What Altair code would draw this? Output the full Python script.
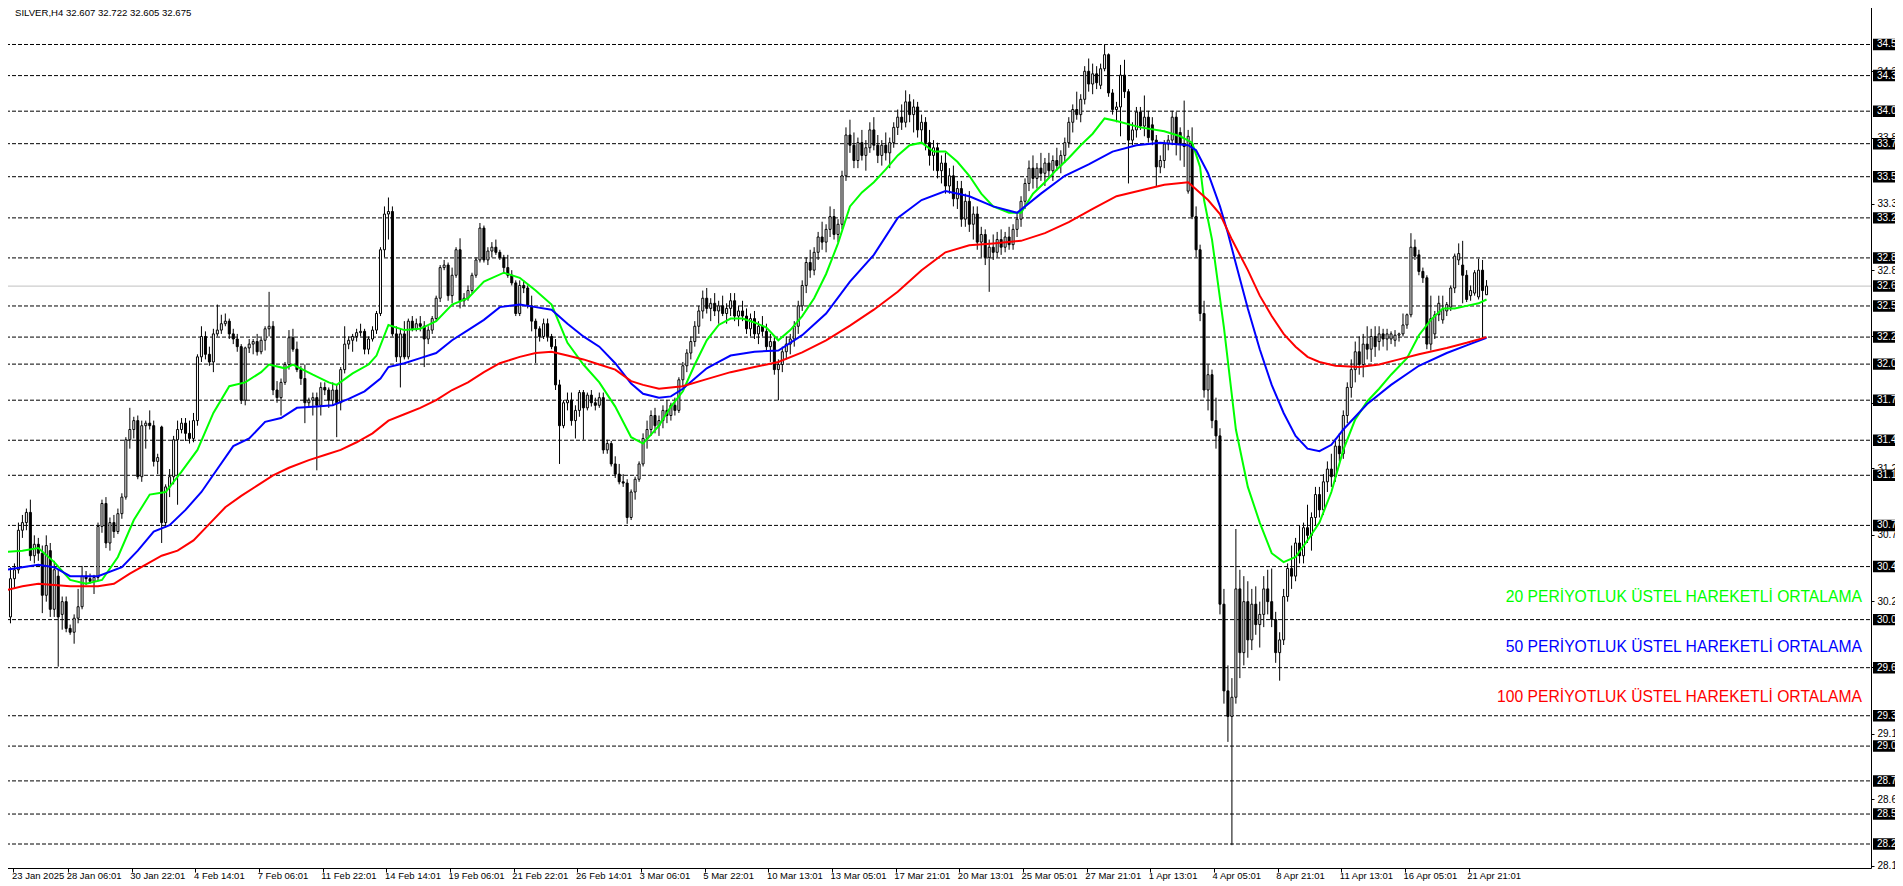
import altair as alt
import pandas as pd

W, H = 1871, 868
P_TOP, P_BOT = 34.919, 28.1108
X0 = -0.375
X1 = X0 + W / 4.0

level_prices = [34.570, 34.326, 34.047, 33.792, 33.533, 33.210, 32.896, 32.519, 32.275,
                32.063, 31.780, 31.466, 31.191, 30.798, 30.475, 30.059, 29.682, 29.305,
                29.067, 28.794, 28.534, 28.299]
current_price = 32.675
tick_prices = [28.130, 28.390, 28.650, 28.905, 29.165, 29.425, 29.685, 29.945, 30.205,
               30.465, 30.725, 30.985, 31.245, 31.505, 31.760, 32.020, 32.280, 32.540,
               32.800, 33.060, 33.320, 33.580, 33.840, 34.100, 34.360, 34.620, 34.880]
date_labels = ["23 Jan 2025", "28 Jan 06:01", "30 Jan 22:01", "4 Feb 14:01", "7 Feb 06:01",
               "11 Feb 22:01", "14 Feb 14:01", "19 Feb 06:01", "21 Feb 22:01", "26 Feb 14:01",
               "3 Mar 06:01", "5 Mar 22:01", "10 Mar 13:01", "13 Mar 05:01", "17 Mar 21:01",
               "20 Mar 13:01", "25 Mar 05:01", "27 Mar 21:01", "1 Apr 13:01", "4 Apr 05:01",
               "8 Apr 21:01", "11 Apr 13:01", "16 Apr 05:01", "21 Apr 21:01"]
date_ticks = [1.75] + [16 * k - 0.5 for k in range(1, len(date_labels))]

opens = [30.58,30.08,30.38,30.45,30.76,30.82,30.90,30.56,30.65,30.58,
 30.25,30.60,30.14,30.40,30.10,30.20,29.99,29.96,30.07,30.16,
 30.40,30.38,30.36,30.39,30.79,30.97,30.66,30.82,30.75,30.89,
 31.02,31.47,31.55,31.62,31.18,31.58,31.60,31.58,31.30,31.57,
 30.82,31.10,31.18,31.47,31.55,31.60,31.52,31.48,31.62,32.12,
 32.28,32.14,32.08,32.30,32.33,32.38,32.40,32.30,32.26,32.20,
 31.78,32.19,32.22,32.24,32.16,32.25,32.34,32.36,31.86,31.80,
 31.92,32.06,32.27,32.18,32.02,31.95,31.76,31.78,31.80,31.74,
 31.88,31.86,31.78,31.86,31.76,32.02,32.22,32.25,32.28,32.31,
 32.32,32.18,32.26,32.33,32.46,32.96,33.24,33.26,32.30,32.12,
 32.30,32.12,32.40,32.34,32.38,32.36,32.26,32.33,32.42,32.58,
 32.82,32.84,32.60,32.76,32.96,32.56,32.58,32.64,32.76,32.88,
 33.13,32.88,32.95,32.98,32.94,32.90,32.82,32.76,32.70,32.46,
 32.68,32.66,32.52,32.40,32.34,32.28,32.38,32.28,32.20,31.90,
 31.58,31.76,31.78,31.62,31.70,31.84,31.72,31.82,31.76,31.74,
 31.80,31.39,31.44,31.28,31.20,31.14,31.13,30.86,31.06,31.16,
 31.28,31.48,31.55,31.66,31.58,31.62,31.70,31.66,31.74,31.70,
 31.94,32.05,32.15,32.24,32.36,32.48,32.58,32.50,32.54,32.48,
 32.52,32.46,32.50,32.56,32.44,32.48,32.44,32.34,32.42,32.30,
 32.36,32.32,32.20,32.24,32.02,32.06,32.16,32.22,32.26,32.36,
 32.52,32.68,32.86,32.80,32.94,33.06,33.02,33.12,33.22,33.08,
 33.16,33.54,33.86,33.78,33.66,33.80,33.70,33.76,33.90,33.78,
 33.70,33.78,33.72,33.80,33.92,34.00,33.96,34.12,34.02,34.08,
 33.90,33.96,33.80,33.70,33.76,33.58,33.64,33.46,33.54,33.36,
 33.44,33.20,33.34,33.16,33.24,33.02,33.08,32.90,32.98,32.94,
 33.04,32.98,33.06,33.00,33.12,33.20,33.34,33.48,33.60,33.52,
 33.60,33.56,33.64,33.58,33.66,33.62,33.70,33.80,33.96,34.06,
 34.02,34.14,34.36,34.26,34.34,34.25,34.38,34.49,34.19,34.06,
 34.08,34.33,34.20,33.82,33.90,34.04,33.93,34.00,33.94,33.82,
 33.61,33.66,33.79,33.82,34.00,33.88,33.79,33.42,33.79,33.22,
 32.96,32.46,31.86,31.98,31.62,31.50,30.18,29.50,29.30,29.45,
 30.30,29.80,30.20,29.90,30.18,30.02,30.10,30.30,30.20,30.06,
 29.80,29.90,30.24,30.46,30.40,30.66,30.56,30.78,30.72,30.86,
 31.04,30.92,31.14,31.24,31.18,31.42,31.36,31.66,31.88,32.02,
 32.16,32.06,32.22,32.18,32.28,32.24,32.30,32.26,32.26,32.25,
 32.29,32.30,32.37,32.45,32.98,32.92,32.79,32.74,32.22,32.30,
 32.45,32.41,32.48,32.51,32.66,32.88,32.84,32.76,32.60,32.62,
 32.59,32.80,32.607]
highs = [30.62,30.47,30.50,30.82,30.88,30.93,31.00,30.72,30.70,30.64,
 30.72,30.66,30.52,30.45,30.24,30.24,30.02,30.10,30.30,30.48,
 30.44,30.42,30.41,30.82,31.00,31.02,30.86,30.88,30.93,31.05,
 31.49,31.72,31.65,31.66,31.62,31.62,31.70,31.62,31.36,31.58,
 31.12,31.24,31.50,31.62,31.64,31.64,31.62,31.68,32.14,32.36,
 32.32,32.20,32.34,32.53,32.45,32.46,32.42,32.34,32.30,32.22,
 32.20,32.26,32.26,32.30,32.27,32.36,32.63,32.40,31.93,31.95,
 32.08,32.33,32.34,32.24,32.05,32.06,31.80,31.84,31.84,31.92,
 31.92,31.88,31.92,31.90,32.04,32.36,32.28,32.30,32.34,32.38,
 32.34,32.28,32.36,32.48,32.98,33.30,33.37,33.30,32.36,32.34,
 32.40,32.42,32.44,32.42,32.44,32.40,32.36,32.44,32.60,32.84,
 32.88,32.86,32.82,32.98,33.05,32.62,32.68,32.78,32.90,33.17,
 33.15,32.98,33.02,33.04,32.96,32.92,32.92,32.80,32.72,32.72,
 32.72,32.68,32.60,32.42,32.36,32.42,32.42,32.30,32.26,31.94,
 31.78,31.84,31.84,31.74,31.86,31.86,31.84,31.86,31.80,31.84,
 31.84,31.47,31.46,31.34,31.28,31.20,31.16,31.08,31.18,31.30,
 31.52,31.62,31.70,31.72,31.66,31.74,31.78,31.76,31.80,31.96,
 32.08,32.18,32.28,32.40,32.52,32.64,32.66,32.58,32.62,32.56,
 32.60,32.54,32.62,32.62,32.52,32.56,32.50,32.46,32.48,32.40,
 32.44,32.38,32.30,32.28,32.10,32.20,32.28,32.30,32.40,32.56,
 32.72,32.90,32.96,32.98,33.10,33.18,33.16,33.30,33.28,33.20,
 33.58,33.92,33.98,33.88,33.84,33.90,33.82,33.96,34.00,33.86,
 33.82,33.88,33.84,33.96,34.06,34.10,34.21,34.18,34.14,34.12,
 34.02,34.00,33.90,33.82,33.80,33.70,33.72,33.60,33.62,33.50,
 33.50,33.40,33.42,33.30,33.30,33.14,33.12,33.04,33.08,33.10,
 33.12,33.10,33.14,33.16,33.24,33.38,33.52,33.66,33.70,33.64,
 33.72,33.68,33.72,33.70,33.76,33.74,33.84,34.00,34.10,34.20,
 34.18,34.40,34.46,34.42,34.40,34.42,34.57,34.50,34.22,34.12,
 34.41,34.45,34.22,33.96,34.08,34.08,34.17,34.05,34.00,33.86,
 33.70,33.82,33.86,34.05,34.04,33.92,34.13,33.90,33.92,33.30,
 33.00,32.56,32.06,32.02,31.80,31.56,30.30,29.70,29.60,30.77,
 30.45,30.40,30.36,30.30,30.32,30.20,30.40,30.45,30.46,30.12,
 29.96,30.30,30.50,30.64,30.70,30.80,30.82,30.96,30.90,31.10,
 31.10,31.20,31.30,31.36,31.48,31.52,31.70,31.92,32.10,32.24,
 32.28,32.30,32.36,32.34,32.36,32.36,32.34,32.34,32.32,32.33,
 32.31,32.46,32.46,33.09,33.04,32.96,32.82,32.76,32.60,32.48,
 32.60,32.60,32.55,32.68,32.93,33.01,33.03,32.80,32.68,32.80,
 32.89,32.88,32.722]
lows = [30.05,30.03,30.30,30.42,30.70,30.76,30.52,30.50,30.52,30.11,
 30.20,30.08,30.08,29.69,29.98,29.96,29.94,29.87,30.03,30.14,
 30.33,30.34,30.26,30.36,30.74,30.62,30.60,30.70,30.73,30.85,
 31.00,31.40,31.48,31.16,31.14,31.40,31.55,31.26,31.20,30.66,
 30.78,31.02,31.12,30.96,31.52,31.46,31.44,31.45,31.58,32.08,
 32.10,32.05,32.00,32.28,32.30,32.36,32.26,32.22,32.16,31.75,
 31.74,32.15,32.14,32.13,32.14,32.17,32.28,31.82,31.76,31.66,
 31.90,32.02,32.16,32.00,31.90,31.60,31.72,31.66,31.23,31.66,
 31.82,31.72,31.74,31.49,31.70,31.99,32.18,32.16,32.24,32.28,
 32.14,32.14,32.24,32.30,32.44,32.90,33.04,32.28,32.08,31.88,
 32.10,32.10,32.32,32.32,32.32,32.04,32.22,32.30,32.40,32.55,
 32.80,32.56,32.54,32.74,32.50,32.52,32.56,32.62,32.74,32.86,
 32.86,32.84,32.90,32.92,32.88,32.78,32.74,32.68,32.44,32.44,
 32.62,32.50,32.32,32.07,32.24,32.26,32.24,32.18,31.86,31.28,
 31.56,31.70,31.58,31.48,31.65,31.47,31.70,31.73,31.70,31.72,
 31.36,31.36,31.26,31.17,31.12,31.10,30.81,30.84,31.00,31.14,
 31.26,31.40,31.50,31.52,31.50,31.56,31.60,31.62,31.66,31.68,
 31.88,32.00,32.10,32.20,32.30,32.42,32.46,32.40,32.44,32.38,
 32.44,32.38,32.44,32.40,32.36,32.40,32.30,32.28,32.26,32.22,
 32.28,32.16,32.08,31.98,31.78,32.00,32.10,32.14,32.20,32.30,
 32.48,32.62,32.74,32.76,32.88,32.96,32.94,33.06,33.04,33.02,
 33.12,33.50,33.72,33.60,33.60,33.66,33.58,33.72,33.74,33.64,
 33.62,33.66,33.60,33.76,33.86,33.90,33.92,33.96,33.88,33.84,
 33.80,33.74,33.62,33.58,33.52,33.48,33.40,33.40,33.30,33.28,
 33.14,33.14,33.10,33.04,32.96,32.90,32.84,32.63,32.88,32.90,
 32.92,32.94,32.96,32.96,33.06,33.14,33.28,33.42,33.44,33.44,
 33.50,33.46,33.52,33.50,33.58,33.56,33.64,33.76,33.88,33.98,
 33.96,34.10,34.20,34.18,34.22,34.22,34.36,34.16,34.02,33.96,
 33.85,34.15,33.48,33.78,33.84,33.90,33.85,33.80,33.78,33.46,
 33.56,33.60,33.74,33.78,33.70,33.66,33.61,33.40,33.20,32.90,
 32.40,31.80,31.70,31.56,31.40,30.10,29.40,29.10,28.29,29.40,
 29.60,29.70,29.76,29.82,29.94,29.84,30.00,30.10,30.00,29.72,
 29.58,29.86,30.20,30.30,30.36,30.50,30.50,30.66,30.60,30.80,
 30.86,30.88,31.06,31.10,31.14,31.30,31.32,31.60,31.80,31.92,
 31.98,31.96,32.10,32.08,32.12,32.17,32.20,32.17,32.22,32.20,
 32.24,32.28,32.34,32.43,32.88,32.76,32.70,32.18,32.17,32.26,
 32.40,32.38,32.44,32.48,32.62,32.84,32.54,32.55,32.56,32.60,
 32.57,32.27,32.605]
closes = [30.08,30.38,30.45,30.76,30.82,30.90,30.56,30.65,30.58,30.25,
 30.64,30.14,30.45,30.08,30.20,29.99,29.96,30.07,30.16,30.40,
 30.38,30.36,30.39,30.79,30.97,30.66,30.82,30.75,30.89,31.02,
 31.47,31.55,31.62,31.18,31.58,31.60,31.58,31.30,31.33,30.82,
 31.10,31.18,31.47,31.55,31.60,31.52,31.48,31.62,32.12,32.28,
 32.14,32.08,32.30,32.33,32.38,32.40,32.30,32.26,32.20,31.78,
 32.19,32.22,32.24,32.16,32.25,32.34,32.36,31.86,31.80,31.92,
 32.06,32.27,32.18,32.02,31.95,31.76,31.78,31.80,31.74,31.88,
 31.86,31.78,31.86,31.76,32.02,32.22,32.25,32.28,32.31,32.32,
 32.18,32.26,32.33,32.46,32.96,33.24,33.26,32.30,32.12,32.30,
 32.12,32.40,32.34,32.38,32.36,32.26,32.33,32.42,32.58,32.82,
 32.84,32.60,32.76,32.96,32.56,32.58,32.64,32.76,32.88,33.13,
 32.88,32.95,32.98,32.94,32.90,32.82,32.76,32.70,32.46,32.68,
 32.66,32.52,32.40,32.34,32.28,32.38,32.28,32.20,31.90,31.58,
 31.76,31.78,31.62,31.70,31.84,31.72,31.82,31.76,31.74,31.80,
 31.39,31.44,31.28,31.20,31.14,31.13,30.86,31.06,31.16,31.28,
 31.48,31.55,31.66,31.58,31.62,31.70,31.66,31.74,31.70,31.94,
 32.05,32.15,32.24,32.36,32.48,32.58,32.50,32.54,32.48,32.52,
 32.46,32.50,32.56,32.44,32.48,32.44,32.34,32.42,32.30,32.36,
 32.32,32.20,32.24,32.02,32.06,32.16,32.22,32.26,32.36,32.52,
 32.68,32.86,32.80,32.94,33.06,33.02,33.12,33.22,33.08,33.16,
 33.54,33.86,33.78,33.66,33.80,33.70,33.76,33.90,33.78,33.70,
 33.78,33.72,33.80,33.92,34.00,33.96,34.12,34.02,34.08,33.90,
 33.96,33.80,33.70,33.76,33.58,33.64,33.46,33.54,33.36,33.44,
 33.20,33.34,33.16,33.24,33.02,33.08,32.90,32.98,32.94,33.04,
 32.98,33.06,33.00,33.12,33.20,33.34,33.48,33.60,33.52,33.60,
 33.56,33.64,33.58,33.66,33.62,33.70,33.80,33.96,34.06,34.02,
 34.14,34.36,34.26,34.34,34.27,34.38,34.49,34.19,34.06,34.08,
 34.33,34.20,33.82,33.90,34.04,33.93,34.00,33.84,33.82,33.61,
 33.66,33.79,33.82,34.00,33.79,33.79,33.77,33.85,33.22,32.96,
 32.46,31.86,31.98,31.62,31.50,30.18,29.50,29.30,29.45,30.30,
 29.80,30.20,29.90,30.18,30.02,30.10,30.30,30.20,30.06,29.80,
 29.90,30.24,30.46,30.40,30.66,30.56,30.78,30.72,30.86,31.04,
 30.92,31.14,31.24,31.18,31.42,31.36,31.66,31.88,32.02,32.16,
 32.06,32.22,32.18,32.28,32.20,32.30,32.26,32.30,32.30,32.29,
 32.30,32.37,32.45,32.98,32.91,32.79,32.74,32.22,32.42,32.45,
 32.54,32.49,32.53,32.66,32.91,32.93,32.76,32.57,32.64,32.78,
 32.80,32.64,32.675]

ema20_bars = [0,4,8,12,16,20,24,28,32,36,40,44,48,52,56,60,64,66,70,72,77,81,83,87,91,93,96,100,104,108,
 112,116,120,125,129,133,137,141,145,149,153,157,160,164,167,170,173,176,179,182,185,188,191,194,197,200,
 203,206,209,212,215,218,221,224,227,230,233,236,239,242,245,248,252,255,258,261,264,267,270,273,276,279,
 285,291,295,298,300,301,303,306,309,312,315,318,321,324,327,330,333,336,339,342,345,348,352,355,358,361,
 364,367,370,372]
ema20 = [30.59,30.60,30.62,30.51,30.37,30.34,30.37,30.55,30.84,31.04,31.06,31.22,31.39,31.68,31.89,31.92,
 32.00,32.06,32.03,32.06,31.98,31.92,31.90,31.99,32.06,32.13,32.37,32.33,32.34,32.40,32.53,32.58,32.71,
 32.78,32.74,32.64,32.53,32.23,32.06,31.92,31.73,31.49,31.44,31.58,31.73,31.85,32.06,32.25,32.37,32.42,
 32.42,32.39,32.35,32.25,32.33,32.44,32.58,32.77,33.01,33.30,33.41,33.49,33.59,33.70,33.78,33.80,33.73,
 33.73,33.65,33.54,33.40,33.30,33.25,33.25,33.40,33.49,33.59,33.68,33.78,33.87,33.99,33.97,33.92,33.89,
 33.85,33.80,33.61,33.35,33.04,32.35,31.55,31.10,30.82,30.58,30.51,30.55,30.68,30.82,31.06,31.39,31.63,
 31.77,31.87,31.98,32.11,32.29,32.41,32.50,32.50,32.52,32.54,32.57]
ema50_bars = [0,4,8,12,16,20,23,29,33,37,41,45,49,53,57,61,65,69,73,78,82,86,90,94,96,100,104,108,112,116,
 120,124,129,133,137,141,145,149,153,157,160,164,167,170,173,176,179,182,188,194,200,206,212,218,224,230,
 236,242,248,254,260,266,272,278,284,290,297,299,302,305,307,309,312,315,318,321,324,327,330,333,336,342,
 348,355,362,367,372]
ema50 = [30.45,30.47,30.49,30.47,30.40,30.40,30.40,30.47,30.60,30.75,30.80,30.92,31.06,31.24,31.42,31.48,
 31.61,31.64,31.72,31.73,31.74,31.79,31.85,31.95,32.04,32.07,32.11,32.15,32.25,32.33,32.41,32.51,32.53,
 32.51,32.49,32.38,32.28,32.20,32.07,31.91,31.83,31.80,31.81,31.87,31.95,32.03,32.08,32.13,32.16,32.17,
 32.29,32.46,32.71,32.92,33.21,33.35,33.42,33.38,33.30,33.25,33.40,33.54,33.63,33.73,33.78,33.80,33.78,
 33.74,33.56,33.30,33.09,32.85,32.50,32.18,31.90,31.68,31.50,31.40,31.38,31.43,31.55,31.75,31.90,32.05,
 32.15,32.21,32.27]
ema100_bars = [0,4,8,12,16,20,23,27,31,35,39,43,47,51,55,59,63,67,71,76,80,84,88,92,96,100,104,108,112,116,
 120,124,129,133,137,141,145,149,153,157,160,164,170,176,182,188,194,200,206,212,218,224,230,236,242,248,
 255,261,267,273,279,285,291,297,302,305,308,312,315,318,321,324,327,330,334,340,345,350,355,362,367,372]
ema100 = [30.29,30.32,30.34,30.33,30.32,30.32,30.32,30.34,30.42,30.49,30.56,30.60,30.68,30.81,30.94,31.03,
 31.11,31.19,31.25,31.31,31.35,31.39,31.45,31.52,31.62,31.67,31.72,31.78,31.86,31.92,32.00,32.07,32.12,
 32.15,32.16,32.13,32.10,32.06,32.02,31.93,31.90,31.87,31.89,31.945,32.00,32.04,32.08,32.155,32.25,32.365,
 32.49,32.63,32.80,32.94,32.995,33.01,33.03,33.09,33.176,33.28,33.38,33.425,33.47,33.49,33.35,33.24,33.04,
 32.80,32.60,32.44,32.30,32.20,32.12,32.08,32.05,32.04,32.06,32.10,32.14,32.19,32.23,32.275]

legend_texts = ["20 PERİYOTLUK ÜSTEL HAREKETLİ ORTALAMA",
                "50 PERİYOTLUK ÜSTEL HAREKETLİ ORTALAMA",
                "100 PERİYOTLUK ÜSTEL HAREKETLİ ORTALAMA"]
legend_colors = ["#00ff00", "#0000ff", "#ff0000"]
title_text = "SILVER,H4  32.607 32.722 32.605 32.675"

FONT = "Liberation Sans"
xs = alt.Scale(domain=[X0, X1], range=[0, W], nice=False, zero=False)
ys = alt.Scale(domain=[P_BOT, P_TOP], range=[H, 0], nice=False, zero=False)

x_axis = alt.Axis(orient="bottom", values=date_ticks,
                  labelExpr="[" + ",".join("'%s'" % s for s in date_labels) + "][round((datum.value+0.5)/16)]",
                  tickSize=4, tickColor="black", domainColor="black", labelColor="black",
                  labelFont=FONT, labelFontSize=9.5, labelAlign="left", labelOffset=-2,
                  labelPadding=3, labelBaseline="middle", grid=False, title=None,
                  labelOverlap=False, labelFlush=False)
y_axis = alt.Axis(orient="right", values=tick_prices, format=".3f", tickSize=3,
                  tickColor="black", domainColor="black", labelColor="black",
                  labelFont=FONT, labelFontSize=10, labelPadding=3, grid=False, title=None,
                  labelAlign="left", labelOverlap=False, labelFlush=False)

base_axes = alt.Chart(pd.DataFrame({"i": [X0], "p": [P_BOT]})).mark_point(opacity=0).encode(
    x=alt.X("i:Q", scale=xs, axis=x_axis), y=alt.Y("p:Q", scale=ys, axis=y_axis))

dashed = alt.Chart(pd.DataFrame({"p": level_prices})).mark_rule(
    color="black", strokeWidth=1, strokeDash=[4, 2]).encode(
    y=alt.Y("p:Q", scale=ys), x=alt.value(0), x2=alt.value(W))
cur = alt.Chart(pd.DataFrame({"p": [current_price]})).mark_rule(color="#c0c0c0", strokeWidth=1).encode(
    y=alt.Y("p:Q", scale=ys), x=alt.value(0), x2=alt.value(W))

n = len(closes)
cdf = pd.DataFrame({"i": list(range(n)), "o": opens, "h": highs, "l": lows, "c": closes})
cdf["h"] = cdf[["h", "o", "c"]].max(axis=1)
cdf["l"] = cdf[["l", "o", "c"]].min(axis=1)
wicks = alt.Chart(cdf).mark_rule(color="black", strokeWidth=1).encode(
    x=alt.X("i:Q", scale=xs), y=alt.Y("l:Q", scale=ys), y2="h:Q")
bodies = alt.Chart(cdf).mark_bar(size=2, stroke="black", strokeWidth=1).encode(
    x=alt.X("i:Q", scale=xs), y=alt.Y("o:Q", scale=ys), y2="c:Q",
    fill=alt.condition("datum.c >= datum.o", alt.value("white"), alt.value("black")))

rows = []
for name, bars, vals in (("20", ema20_bars, ema20), ("50", ema50_bars, ema50), ("100", ema100_bars, ema100)):
    for b, v in zip(bars, vals):
        rows.append({"i": b, "p": v, "s": name})
emas = alt.Chart(pd.DataFrame(rows)).mark_line(strokeWidth=2).encode(
    x=alt.X("i:Q", scale=xs), y=alt.Y("p:Q", scale=ys), detail="s:N",
    color=alt.Color("s:N", scale=alt.Scale(domain=["20", "50", "100"], range=legend_colors), legend=None))

box_df = pd.DataFrame({"p": level_prices + [current_price],
                       "t": ["%.3f" % v for v in level_prices] + ["%.3f" % current_price]})
boxes = alt.Chart(box_df).transform_calculate(lo="datum.p - 0.045", hi="datum.p + 0.045").mark_rect(color="black").encode(
    y=alt.Y("lo:Q", scale=ys), y2="hi:Q", x=alt.value(W + 2), x2=alt.value(W + 40))
box_txt = alt.Chart(box_df).mark_text(color="white", font=FONT, fontSize=10, align="left", baseline="middle").encode(
    y=alt.Y("p:Q", scale=ys), x=alt.value(W + 6), text="t:N")

leg = alt.Chart(pd.DataFrame({"t": legend_texts, "c": legend_colors, "y": [597, 647, 697]})).mark_text(
    font=FONT, fontSize=15.7, align="right", baseline="middle").encode(
    y=alt.Y("y:Q", scale=None), x=alt.value(1862), text="t:N",
    color=alt.Color("c:N", scale=None))

title = alt.Chart(pd.DataFrame({"t": [title_text]})).mark_text(
    font=FONT, fontSize=9.6, align="left", baseline="middle", color="black").encode(
    x=alt.value(15), y=alt.value(13), text="t:N")

chart = alt.layer(base_axes, dashed, cur, wicks, bodies, emas, boxes, box_txt, leg, title).properties(
    width=W, height=H,
    autosize=alt.AutoSizeParams(type="none"),
    padding={"left": -8, "top": -8, "right": 24, "bottom": 18},
    background="white",
).configure_view(stroke=None)

chart.save("out.html", embed_options={"renderer": "svg", "actions": False})
